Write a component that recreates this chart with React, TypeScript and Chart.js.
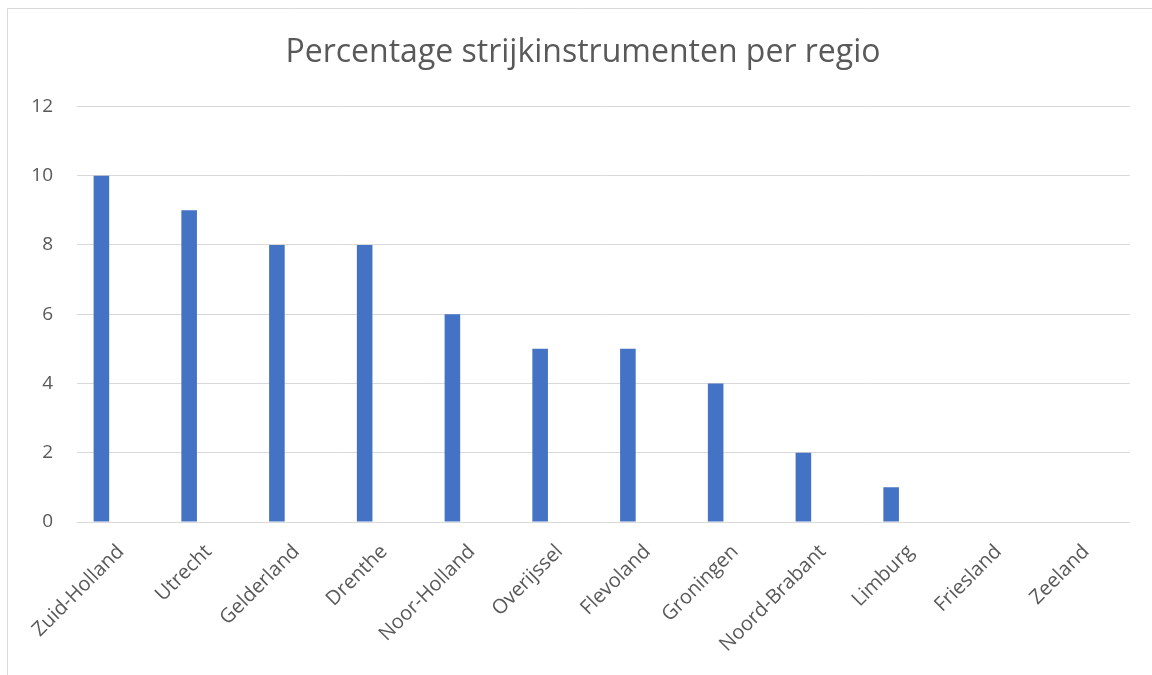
import React, { useEffect, useRef } from "react";
import { Chart, registerables } from "chart.js";

Chart.register(...registerables);

const TITLE = "Percentage strijkinstrumenten per regio";
const categories = [
  "Zuid-Holland",
  "Utrecht",
  "Gelderland",
  "Drenthe",
  "Noor-Holland",
  "Overijssel",
  "Flevoland",
  "Groningen",
  "Noord-Brabant",
  "Limburg",
  "Friesland",
  "Zeeland",
];
const percentages = [10, 9, 8, 8, 6, 5, 5, 4, 2, 1, 0, 0];
const emptySeriesA: (number | null)[] = [];
const emptySeriesB: (number | null)[] = [];
const yTicks = [0, 2, 4, 6, 8, 10, 12];

const FONT = "'Open Sans', 'DejaVu Sans', sans-serif";
const TEXT = "#595959";
const GRID = "#d9d9d9";
const BAR = "#4472c4";

const framePlugin = {
  id: "frame",
  beforeDraw(chart: any) {
    const ctx = chart.ctx;
    ctx.save();
    ctx.fillStyle = "#ffffff";
    ctx.fillRect(0, 0, chart.width, chart.height);
    ctx.strokeStyle = GRID;
    ctx.lineWidth = 1;
    ctx.beginPath();
    ctx.moveTo(7.5, chart.height);
    ctx.lineTo(7.5, 8.5);
    ctx.lineTo(chart.width, 8.5);
    ctx.stroke();
    ctx.restore();
  },
};

export default function App() {
  const ref = useRef<HTMLCanvasElement | null>(null);
  useEffect(() => {
    if (!ref.current) return;
    const chart = new Chart(ref.current, {
      type: "bar",
      data: {
        labels: categories,
        datasets: [
          {
            label: "Percentage",
            data: percentages,
            backgroundColor: BAR,
            borderWidth: 0,
            categoryPercentage: 0.666,
            barPercentage: 0.8,
          },
          {
            label: "Reeks 2",
            data: emptySeriesA,
            backgroundColor: BAR,
            categoryPercentage: 0.666,
            barPercentage: 0.8,
          },
          {
            label: "Reeks 3",
            data: emptySeriesB,
            backgroundColor: BAR,
            categoryPercentage: 0.666,
            barPercentage: 0.8,
          },
        ],
      },
      options: {
        animation: false,
        responsive: false,
        maintainAspectRatio: false,
        layout: { padding: { left: 14, right: 0, top: 0, bottom: 0 } },
        plugins: {
          legend: { display: false },
          tooltip: { enabled: false },
          title: {
            display: true,
            text: TITLE,
            color: TEXT,
            font: { family: FONT, size: 32, weight: "normal" },
            padding: { top: 34, bottom: 34 },
          },
        },
        scales: {
          x: {
            grid: { display: false },
            border: { display: false },
            ticks: {
              color: TEXT,
              font: { family: FONT, size: 20 },
              minRotation: 45,
              maxRotation: 45,
              autoSkip: false,
              padding: 10,
            },
            afterFit(scale: any) {
              scale.height = 153;
            },
          },
          y: {
            min: 0,
            max: 12,
            afterBuildTicks(scale: any) {
              scale.ticks = yTicks.map((v) => ({ value: v }));
            },
            grid: { color: GRID, lineWidth: 1, drawTicks: false },
            border: { display: false },
            ticks: {
              color: TEXT,
              font: { family: FONT, size: 19 },
              padding: 24,
            },
            afterFit(scale: any) {
              scale.width = 63;
            },
          },
          spacer: {
            type: "linear",
            position: "right",
            min: 0,
            max: 12,
            grid: { display: false },
            border: { display: false },
            ticks: { display: false },
            afterFit(scale: any) {
              scale.width = 22;
            },
          },
        },
      },
      plugins: [framePlugin],
    });
    return () => chart.destroy();
  }, []);
  return (
    <canvas
      ref={ref}
      width={1152}
      height={675}
      style={{ position: "fixed", left: 0, top: 0, width: 1152, height: 675 }}
    />
  );
}
